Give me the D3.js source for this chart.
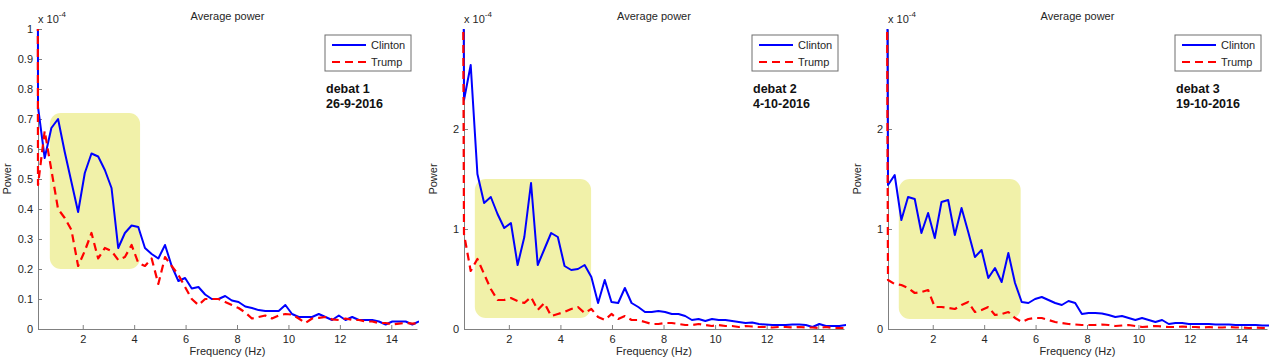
<!DOCTYPE html>
<html><head><meta charset="utf-8">
<script src="https://cdn.jsdelivr.net/npm/d3@7"></script>
<style>
body{margin:0;background:#fff}
svg{display:block}
text{font-family:"Liberation Sans",Arial,Helvetica,sans-serif}
</style>
</head><body>
<svg id="chart" width="1280" height="360"></svg>
<script>
// ---------- data (power in units of 1e-4; the 0 Hz bin is far off-scale) ----------
const freqs = [0,0.26,0.52,0.78,1.04,1.30,1.56,1.82,2.08,2.34,2.60,2.86,3.12,3.38,3.64,3.90,4.16,4.42,4.68,4.94,5.20,5.46,5.72,5.98,6.24,6.50,6.76,7.02,7.28,7.54,7.80,8.06,8.32,8.58,8.84,9.10,9.36,9.62,9.88,10.14,10.40,10.66,10.92,11.18,11.44,11.70,11.96,12.22,12.48,12.74,13.00,13.26,13.52,13.78,14.04,14.30,14.56,14.82,15.08];

const clinton1 = [20,0.74,0.57,0.67,0.70,0.59,0.49,0.39,0.52,0.585,0.575,0.53,0.47,0.27,0.32,0.345,0.34,0.27,0.25,0.235,0.28,0.21,0.16,0.17,0.135,0.14,0.115,0.10,0.10,0.11,0.095,0.09,0.075,0.07,0.063,0.06,0.06,0.06,0.08,0.05,0.04,0.04,0.04,0.05,0.04,0.03,0.045,0.03,0.04,0.03,0.03,0.03,0.025,0.015,0.025,0.025,0.025,0.015,0.025];
const trump1   = [20,0.48,0.66,0.53,0.40,0.37,0.33,0.21,0.26,0.32,0.235,0.27,0.26,0.23,0.24,0.28,0.22,0.21,0.235,0.15,0.24,0.21,0.18,0.14,0.10,0.08,0.10,0.10,0.10,0.09,0.08,0.07,0.055,0.035,0.04,0.045,0.035,0.045,0.05,0.048,0.035,0.02,0.035,0.037,0.04,0.032,0.03,0.035,0.03,0.03,0.025,0.025,0.02,0.02,0.015,0.018,0.02,0.018,0.02];
const clinton2 = [20,2.29,2.64,1.55,1.26,1.32,1.15,1.01,1.06,0.64,0.92,1.46,0.64,0.80,0.96,0.92,0.63,0.59,0.60,0.64,0.52,0.26,0.49,0.27,0.26,0.41,0.26,0.22,0.17,0.17,0.18,0.17,0.15,0.15,0.13,0.09,0.10,0.08,0.10,0.09,0.09,0.08,0.07,0.06,0.065,0.05,0.045,0.04,0.04,0.04,0.045,0.045,0.04,0.02,0.05,0.03,0.03,0.03,0.04];
const trump2   = [20,0.95,0.58,0.70,0.55,0.40,0.29,0.29,0.31,0.28,0.26,0.32,0.19,0.26,0.13,0.15,0.17,0.20,0.22,0.16,0.20,0.12,0.09,0.15,0.10,0.13,0.09,0.09,0.07,0.05,0.05,0.06,0.06,0.05,0.04,0.04,0.05,0.04,0.03,0.04,0.03,0.03,0.02,0.03,0.025,0.02,0.02,0.015,0.02,0.02,0.015,0.02,0.015,0.015,0.01,0.02,0.01,0.01,0.01];
const clinton3 = [20,1.44,1.54,1.09,1.32,1.30,0.96,1.16,0.91,1.27,1.29,0.94,1.21,0.97,0.72,0.79,0.51,0.61,0.47,0.76,0.46,0.27,0.26,0.30,0.32,0.29,0.26,0.24,0.28,0.26,0.15,0.16,0.16,0.155,0.14,0.12,0.13,0.11,0.09,0.11,0.09,0.07,0.09,0.05,0.06,0.06,0.05,0.05,0.05,0.05,0.045,0.045,0.045,0.04,0.04,0.04,0.04,0.035,0.035];
const trump3   = [20,0.49,0.45,0.44,0.41,0.36,0.37,0.39,0.22,0.22,0.21,0.20,0.24,0.27,0.17,0.19,0.22,0.14,0.15,0.17,0.11,0.07,0.10,0.11,0.11,0.09,0.07,0.06,0.05,0.045,0.04,0.04,0.04,0.045,0.04,0.03,0.035,0.04,0.03,0.02,0.025,0.03,0.025,0.02,0.02,0.025,0.02,0.02,0.015,0.02,0.015,0.015,0.02,0.015,0.015,0.01,0.015,0.01,0.01];

const debateNames = ["debat 1","debat 2","debat 3"];
const debateDates = ["26-9-2016","4-10-2016","19-10-2016"];
const seriesNames = ["Clinton","Trump"];
const yMaxes = [1,3,3];
const yTicks1 = [0,0.1,0.2,0.3,0.4,0.5,0.6,0.7,0.8,0.9,1];
const yTicks23 = [0,1,2];
const xTicks = [2,4,6,8,10,12,14];
const xDomain = [0.26,15];
// highlighted band per debate: [f0, f1, p0, p1]
const highlight1 = [0.72,4.23,0.20,0.72];
const highlight2 = [0.68,5.19,0.11,1.50];
const highlight3 = [0.68,5.42,0.10,1.50];

// ---------- layout ----------
const panels = [
  {left:38, right:417, clinton:clinton1, trump:trump1, yTicks:yTicks1, hl:highlight1},
  {left:464, right:844, clinton:clinton2, trump:trump2, yTicks:yTicks23, hl:highlight2},
  {left:888, right:1267, clinton:clinton3, trump:trump3, yTicks:yTicks23, hl:highlight3}
];
const plotTop = 29, plotBottom = 329;
const svg = d3.select("#chart");
const axisColor = "#808080", textColor = "#262626";

panels.forEach((p, pi) => {
  const x = d3.scaleLinear().domain(xDomain).range([p.left, p.right]);
  const y = d3.scaleLinear().domain([0, yMaxes[pi]]).range([plotBottom, plotTop]);
  const g = svg.append("g");
  const clipId = "clip" + pi;
  svg.append("clipPath").attr("id", clipId).append("rect")
    .attr("x", p.left - 2).attr("y", plotTop).attr("width", p.right - p.left + 4).attr("height", plotBottom - plotTop + 2);

  // highlight box
  g.append("rect")
    .attr("x", x(p.hl[0])).attr("y", y(p.hl[3]))
    .attr("width", x(p.hl[1]) - x(p.hl[0])).attr("height", y(p.hl[2]) - y(p.hl[3]))
    .attr("rx", 11).attr("ry", 11)
    .attr("fill", "#f1f1a9");

  // axes
  const xAxis = d3.axisBottom(x).tickValues(xTicks).tickSizeInner(-4).tickSizeOuter(0).tickPadding(6).tickFormat(d3.format("d"));
  const yAxis = d3.axisLeft(y).tickValues(p.yTicks).tickSizeInner(-4).tickSizeOuter(0).tickPadding(5).tickFormat(d => String(+d.toFixed(1)));
  const gx = g.append("g").attr("transform", `translate(0,${plotBottom})`).call(xAxis);
  const gy = g.append("g").attr("transform", `translate(${p.left},0)`).call(yAxis);
  [gx, gy].forEach(a => {
    a.select(".domain").attr("stroke", axisColor).attr("stroke-width", 1);
    a.selectAll(".tick line").attr("stroke", axisColor);
    a.selectAll(".tick text").attr("fill", textColor).style("font-size", "11px");
  });

  // lines (Clinton first, Trump dashed on top)
  const line = d3.line().x((d, i) => x(freqs[i])).y(d => y(d));
  const lg = g.append("g").attr("clip-path", `url(#${clipId})`);
  lg.append("path").datum(p.clinton).attr("d", line)
    .attr("fill", "none").attr("stroke", "#0000ff").attr("stroke-width", 2)
    .attr("stroke-linejoin", "round");
  lg.append("path").datum(p.trump).attr("d", line)
    .attr("fill", "none").attr("stroke", "#ff0000").attr("stroke-width", 2.2)
    .attr("stroke-dasharray", "8,5").attr("stroke-linejoin", "round");

  // texts
  const cx = (p.left + p.right) / 2;
  g.append("text").attr("x", cx).attr("y", 20).attr("text-anchor", "middle")
    .attr("fill", textColor).style("font-size", "11px").text("Average power");
  g.append("text").attr("x", cx).attr("y", 355).attr("text-anchor", "middle")
    .attr("fill", textColor).style("font-size", "11px").text("Frequency (Hz)");
  g.append("text").attr("transform", `translate(${p.left - 27},${(plotTop + plotBottom) / 2}) rotate(-90)`)
    .attr("text-anchor", "middle").attr("fill", textColor).style("font-size", "11px").text("Power");
  const sc = g.append("text").attr("x", p.left).attr("y", 23).attr("fill", textColor).style("font-size", "11px");
  sc.append("tspan").text("x 10");
  sc.append("tspan").attr("dy", -6).style("font-size", "8px").text("-4");

  // legend
  const lw = 86, lh = 36, lx = p.right - 6 - lw, ly = 35;
  const leg = g.append("g");
  leg.append("rect").attr("x", lx).attr("y", ly).attr("width", lw).attr("height", lh)
    .attr("fill", "#fff").attr("stroke", "#6e6e6e").attr("stroke-width", 1);
  [["#0000ff", null], ["#ff0000", "8,5"]].forEach((s, si) => {
    const yy = ly + 10 + si * 17;
    leg.append("line").attr("x1", lx + 7).attr("x2", lx + 41).attr("y1", yy).attr("y2", yy)
      .attr("stroke", s[0]).attr("stroke-width", 2).attr("stroke-dasharray", s[1]);
    leg.append("text").attr("x", lx + 46).attr("y", yy).attr("dy", "0.35em")
      .attr("fill", textColor).style("font-size", "11px").text(seriesNames[si]);
  });
  g.append("text").attr("x", lx + 1).attr("y", 93).attr("fill", "#111")
    .style("font-size", "12.5px").style("font-weight", "bold").text(debateNames[pi]);
  g.append("text").attr("x", lx + 1).attr("y", 108).attr("fill", "#111")
    .style("font-size", "12.5px").style("font-weight", "bold").text(debateDates[pi]);
});
</script>
</body></html>
